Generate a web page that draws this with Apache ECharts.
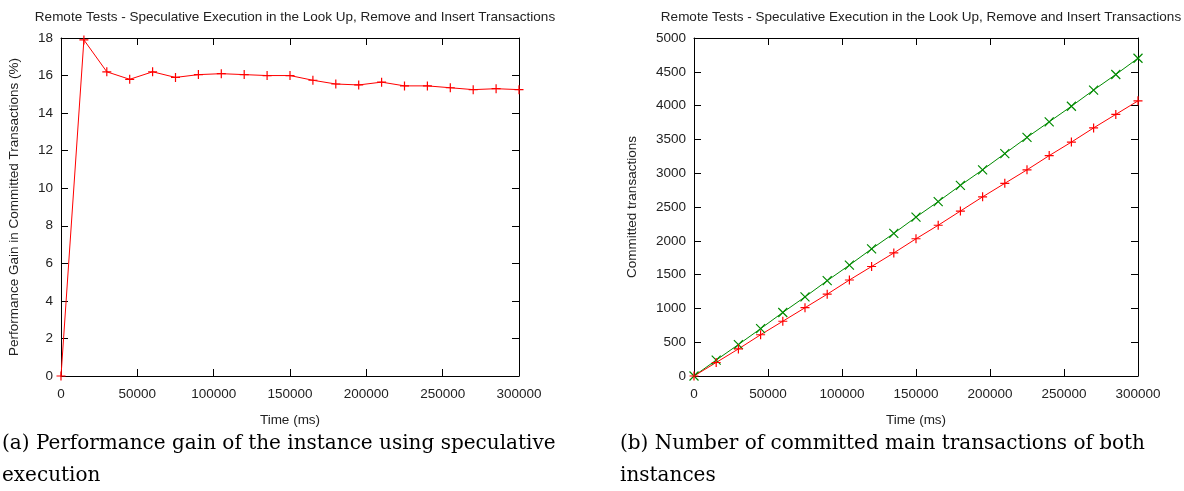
<!DOCTYPE html>
<html>
<head>
<meta charset="utf-8">
<script src="https://cdn.jsdelivr.net/npm/echarts@6/dist/echarts.min.js"></script>
<style>
html,body{margin:0;padding:0;background:#fff;}
#c{width:1184px;height:491px;}
</style>
</head>
<body>
<div id="c"></div>
<script>
// ---- data ----
var timeMs = [0,15000,30000,45000,60000,75000,90000,105000,120000,135000,150000,165000,180000,195000,210000,225000,240000,255000,270000,285000,300000];
var gainPct = [0,17.9,16.2,15.8,16.2,15.9,16.05,16.1,16.05,16.0,16.0,15.75,15.55,15.5,15.65,15.45,15.45,15.35,15.25,15.3,15.25];
var committedSpec = [0,235,465,700,940,1170,1410,1640,1880,2110,2350,2580,2820,3050,3290,3530,3760,3990,4230,4460,4700];
var committedBase = [0,200,400,610,810,1010,1210,1420,1620,1820,2030,2230,2440,2650,2850,3050,3260,3460,3670,3870,4070];
var titleText = 'Remote Tests - Speculative Execution in the Look Up, Remove and Insert Transactions';
var captionA = ['(a) Performance gain of the instance using speculative', 'execution'];
var captionB = ['(b) Number of committed main transactions of both', 'instances'];

function pairs(xs, ys){ return xs.map(function(x,i){ return [x, ys[i]]; }); }

var FONT = 'Liberation Sans';
var FS = 13.5;
var PLUS = 'path://M0,5L10,5M5,0L5,10';
var CROSS = 'path://M0,0L10,10M0,10L10,0';
var RED = '#ff0000', GREEN = '#008a00';
var CAPFONT = '20px "DejaVu Serif"';

function plain(v){ return String(v); }

function xAxisDef(grid, pos, labels, name){
  return {
    type:'value', gridIndex:grid, position:pos, min:0, max:300000, interval:50000,
    name: name || '', nameLocation:'middle', nameGap:37,
    nameTextStyle:{fontFamily:FONT, fontSize:FS, color:'#222'},
    axisLine:{show:true, onZero:false, lineStyle:{color:'#000', width:1}},
    axisTick:{show:true, inside:true, length:7, lineStyle:{color:'#000'}},
    axisLabel:{show:labels, fontFamily:FONT, fontSize:FS, color:'#222', margin:11, formatter:plain},
    splitLine:{show:false}
  };
}
function yAxisDef(grid, pos, labels, max, interval, name, gap){
  return {
    type:'value', gridIndex:grid, position:pos, min:0, max:max, interval:interval,
    name: name || '', nameLocation:'middle', nameGap:gap || 40,
    nameTextStyle:{fontFamily:FONT, fontSize:FS, color:'#222'},
    axisLine:{show:true, onZero:false, lineStyle:{color:'#000', width:1}},
    axisTick:{show:true, inside:true, length:7, lineStyle:{color:'#000'}},
    axisLabel:{show:labels, fontFamily:FONT, fontSize:FS, color:'#222', margin:8, formatter:plain},
    splitLine:{show:false}
  };
}
function lineSeries(xi, yi, data, color, sym){
  return {
    type:'line', xAxisIndex:xi, yAxisIndex:yi, data:data, clip:false,
    symbol:sym, symbolSize:9, showSymbol:true,
    lineStyle:{color:color, width:1},
    itemStyle:{color:'transparent', borderColor:color, borderWidth:1.2},
    emphasis:{disabled:true}
  };
}

var chart = echarts.init(document.getElementById('c'), null, {renderer:'canvas'});
chart.setOption({
  animation:false,
  backgroundColor:'#fff',
  title:[
    {text:titleText, left:290, top:5, textAlign:'center', textStyle:{fontFamily:FONT, fontSize:FS, fontWeight:'normal', color:'#222'}},
    {text:titleText, left:916, top:5, textAlign:'center', textStyle:{fontFamily:FONT, fontSize:FS, fontWeight:'normal', color:'#222'}}
  ],
  grid:[
    {left:61, top:38, width:458, height:338},
    {left:694, top:38, width:444, height:338}
  ],
  xAxis:[
    xAxisDef(0,'bottom',true,'Time (ms)'),
    xAxisDef(1,'bottom',true,'Time (ms)'),
    xAxisDef(0,'top',false),
    xAxisDef(1,'top',false)
  ],
  yAxis:[
    yAxisDef(0,'left',true,18,2,'Performance Gain in Committed Transactions (%)',40),
    yAxisDef(1,'left',true,5000,500,'Committed transactions',55),
    yAxisDef(0,'right',false,18,2),
    yAxisDef(1,'right',false,5000,500)
  ],
  series:[
    lineSeries(0,0,pairs(timeMs,gainPct),RED,PLUS),
    lineSeries(1,1,pairs(timeMs,committedSpec),GREEN,CROSS),
    lineSeries(1,1,pairs(timeMs,committedBase),RED,PLUS)
  ],
  graphic:[
    {type:'text', left:2, top:434, style:{text:captionA[0], font:CAPFONT, fill:'#000'}},
    {type:'text', left:2, top:466, style:{text:captionA[1], font:CAPFONT, fill:'#000'}},
    {type:'text', left:620, top:434, style:{text:captionB[0], font:CAPFONT, fill:'#000'}},
    {type:'text', left:620, top:466, style:{text:captionB[1], font:CAPFONT, fill:'#000'}}
  ]
});
</script>
</body>
</html>
